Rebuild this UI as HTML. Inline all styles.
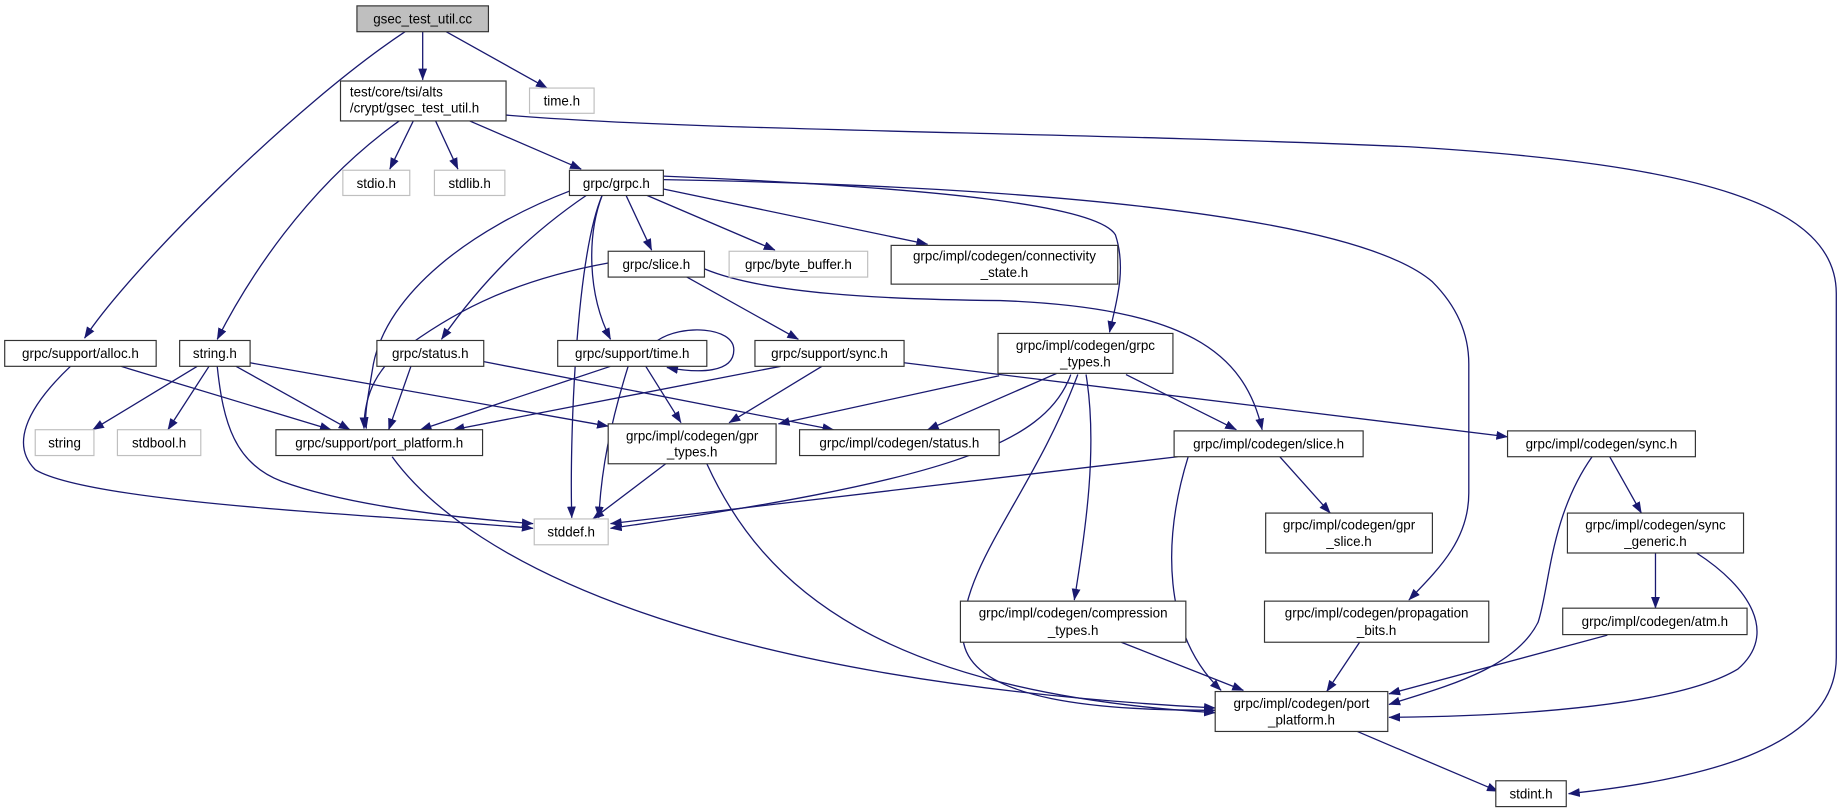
<!DOCTYPE html>
<html><head><meta charset="utf-8"><style>
html,body{margin:0;padding:0;background:#fff;}
svg{display:block;}
text{font-family:"Liberation Sans","DejaVu Sans",sans-serif;font-size:11.4px;fill:#000;}
.n{fill:#fff;stroke:#333;stroke-width:1;}
.g{fill:#fff;stroke:#bfbfbf;stroke-width:1;}
.e{fill:none;stroke:#191970;stroke-width:1.1;marker-end:url(#a);}
</style></head><body>
<svg width="1841" height="812" viewBox="0 0 1568 691.6" xmlns="http://www.w3.org/2000/svg">
<defs><marker id="a" markerUnits="userSpaceOnUse" markerWidth="10" markerHeight="8" refX="9.5" refY="3.75" orient="auto"><path d="M0,0 L10,3.75 L0,7.5 z" fill="#191970"/></marker></defs>

<!-- edges -->
<path class="e" d="M345,27 C250,90 110,230 72,288"/>
<path class="e" d="M360,27 L360,68"/>
<path class="e" d="M380,27 L466,75"/>
<path class="e" d="M340,103 C260,160 210,240 185,289"/>
<path class="e" d="M352,103 L332,144"/>
<path class="e" d="M371,103 L390,144"/>
<path class="e" d="M400,103 L495,144"/>
<path class="e" d="M431,98 C600,112 900,112 1200,125 C1450,140 1564,175 1564,250 L1564,560 C1564,640 1440,665 1336,676"/>
<path class="e" d="M487,162 C400,195 330,250 318,310 C313,340 310,355 312,365"/>
<path class="e" d="M500,166 C450,200 410,240 376,289"/>
<path class="e" d="M513,166 C490,220 485,380 487,441"/>
<path class="e" d="M513,166 C500,200 500,250 520,289"/>
<path class="e" d="M533,166 L555,213"/>
<path class="e" d="M550,166 L660,213"/>
<path class="e" d="M565,161 L790,208"/>
<path class="e" d="M565,150 C800,160 935,175 950,200 C960,230 950,260 945,283"/>
<path class="e" d="M565,153 C850,158 1150,180 1220,240 C1245,265 1251,290 1251,310 L1251,420 C1251,460 1225,485 1200,511"/>
<path class="e" d="M518,224 C430,240 380,270 340,300 C315,320 310,345 310,365"/>
<path class="e" d="M585,236 L680,289"/>
<path class="e" d="M600,229 C650,250 750,255 852,256 C1010,262 1060,300 1075,366"/>
<path class="e" d="M103,312 L282,366"/>
<path class="e" d="M60,312 C20,350 10,380 30,400 C80,430 350,440 454,450"/>
<path class="e" d="M168,312 L79,366"/>
<path class="e" d="M178,312 L143,366"/>
<path class="e" d="M185,312 C190,360 200,395 240,410 C300,432 400,442 454,446"/>
<path class="e" d="M201,312 L298,366"/>
<path class="e" d="M213,309 L518,363"/>
<path class="e" d="M350,312 L331,366"/>
<path class="e" d="M412,308 L710,366"/>
<path class="e" d="M560,290 C580,276 625,278 625,298 C625,318 595,318 568,313"/>
<path class="e" d="M520,312 L358,366"/>
<path class="e" d="M535,312 C520,360 512,400 510,441"/>
<path class="e" d="M550,312 L580,360"/>
<path class="e" d="M665,312 L386,366"/>
<path class="e" d="M700,312 L621,360"/>
<path class="e" d="M770,309 L1284,372"/>
<path class="e" d="M851,320 L663,361"/>
<path class="e" d="M900,318 L790,366"/>
<path class="e" d="M959,319 L1053,366"/>
<path class="e" d="M912,319 C890,380 800,410 520,450"/>
<path class="e" d="M925,319 C935,380 925,450 915,511"/>
<path class="e" d="M918,319 C880,420 820,480 820,540 C820,600 950,605 1035,605"/>
<path class="e" d="M1003,389 L520,446"/>
<path class="e" d="M602,395 C650,500 750,590 1035,607"/>
<path class="e" d="M334,389 C400,480 600,580 1035,603"/>
<path class="e" d="M567,395 L505,442"/>
<path class="e" d="M1012,389 C990,460 990,540 1040,588"/>
<path class="e" d="M1090,389 L1133,437"/>
<path class="e" d="M1356,389 C1320,440 1320,500 1310,530 C1290,570 1230,585 1183,600"/>
<path class="e" d="M1371,389 L1398,437"/>
<path class="e" d="M1410,471 L1410,518"/>
<path class="e" d="M1445,471 C1490,500 1515,540 1480,570 C1430,600 1300,610 1183,611"/>
<path class="e" d="M1369,541 L1183,591"/>
<path class="e" d="M1158,547 L1130,589"/>
<path class="e" d="M955,547 L1059,588"/>
<path class="e" d="M1156,623 L1276,674"/>

<!-- nodes -->
<rect x="304" y="5" width="112" height="22" fill="#bfbfbf" stroke="#333"/>
<text x="360" y="20" text-anchor="middle">gsec_test_util.cc</text>

<rect class="n" x="290" y="69" width="141" height="34"/>
<text x="298" y="82">test/core/tsi/alts</text><text x="298" y="96">/crypt/gsec_test_util.h</text>

<rect class="g" x="451" y="75" width="55" height="21.5"/><text x="478.5" y="90" text-anchor="middle">time.h</text>
<rect class="g" x="292" y="145" width="57" height="21.5"/><text x="320.5" y="160" text-anchor="middle">stdio.h</text>
<rect class="g" x="370" y="145" width="60" height="21.5"/><text x="400" y="160" text-anchor="middle">stdlib.h</text>
<rect class="n" x="485" y="145" width="80" height="21.5"/><text x="525" y="160" text-anchor="middle">grpc/grpc.h</text>

<rect class="n" x="518" y="214" width="82" height="22"/><text x="559" y="229" text-anchor="middle">grpc/slice.h</text>
<rect class="g" x="621" y="214" width="118" height="22"/><text x="680" y="229" text-anchor="middle">grpc/byte_buffer.h</text>
<rect class="n" x="759" y="209" width="193" height="33"/><text x="855.5" y="222" text-anchor="middle">grpc/impl/codegen/connectivity</text><text x="855.5" y="236" text-anchor="middle">_state.h</text>

<rect class="n" x="4" y="290" width="129" height="22"/><text x="68.5" y="305" text-anchor="middle">grpc/support/alloc.h</text>
<rect class="n" x="153" y="290" width="60" height="22"/><text x="183" y="305" text-anchor="middle">string.h</text>
<rect class="n" x="321" y="290" width="91" height="22"/><text x="366.5" y="305" text-anchor="middle">grpc/status.h</text>
<rect class="n" x="475" y="290" width="127" height="22"/><text x="538.5" y="305" text-anchor="middle">grpc/support/time.h</text>
<rect class="n" x="643" y="290" width="127" height="22"/><text x="706.5" y="305" text-anchor="middle">grpc/support/sync.h</text>
<rect class="n" x="850" y="284" width="149" height="34"/><text x="924.5" y="298" text-anchor="middle">grpc/impl/codegen/grpc</text><text x="924.5" y="312" text-anchor="middle">_types.h</text>

<rect class="g" x="30" y="366" width="50" height="22"/><text x="55" y="381" text-anchor="middle">string</text>
<rect class="g" x="100" y="366" width="71" height="22"/><text x="135.5" y="381" text-anchor="middle">stdbool.h</text>
<rect class="n" x="235" y="366" width="176" height="22"/><text x="323" y="381" text-anchor="middle">grpc/support/port_platform.h</text>
<rect class="n" x="518" y="361" width="143" height="34"/><text x="589.5" y="375" text-anchor="middle">grpc/impl/codegen/gpr</text><text x="589.5" y="389" text-anchor="middle">_types.h</text>
<rect class="n" x="681" y="366" width="170" height="22"/><text x="766" y="381" text-anchor="middle">grpc/impl/codegen/status.h</text>
<rect class="n" x="1000" y="367" width="161" height="22"/><text x="1080.5" y="382" text-anchor="middle">grpc/impl/codegen/slice.h</text>
<rect class="n" x="1284" y="367" width="160" height="22"/><text x="1364" y="382" text-anchor="middle">grpc/impl/codegen/sync.h</text>

<rect class="g" x="455" y="442" width="63" height="22"/><text x="486.5" y="457" text-anchor="middle">stddef.h</text>
<rect class="n" x="1078" y="437" width="142" height="34"/><text x="1149" y="451" text-anchor="middle">grpc/impl/codegen/gpr</text><text x="1149" y="465" text-anchor="middle">_slice.h</text>
<rect class="n" x="1335" y="437" width="150" height="34"/><text x="1410" y="451" text-anchor="middle">grpc/impl/codegen/sync</text><text x="1410" y="465" text-anchor="middle">_generic.h</text>

<rect class="n" x="818" y="512" width="192" height="35"/><text x="914" y="526" text-anchor="middle">grpc/impl/codegen/compression</text><text x="914" y="541" text-anchor="middle">_types.h</text>
<rect class="n" x="1077" y="512" width="191" height="35"/><text x="1172.5" y="526" text-anchor="middle">grpc/impl/codegen/propagation</text><text x="1172.5" y="541" text-anchor="middle">_bits.h</text>
<rect class="n" x="1331" y="518" width="157" height="22.5"/><text x="1409.5" y="533" text-anchor="middle">grpc/impl/codegen/atm.h</text>

<rect class="n" x="1035" y="589" width="147" height="34"/><text x="1108.5" y="603" text-anchor="middle">grpc/impl/codegen/port</text><text x="1108.5" y="617" text-anchor="middle">_platform.h</text>

<rect class="n" x="1274" y="665" width="60" height="22"/><text x="1304" y="680" text-anchor="middle">stdint.h</text>
</svg>
</body></html>
